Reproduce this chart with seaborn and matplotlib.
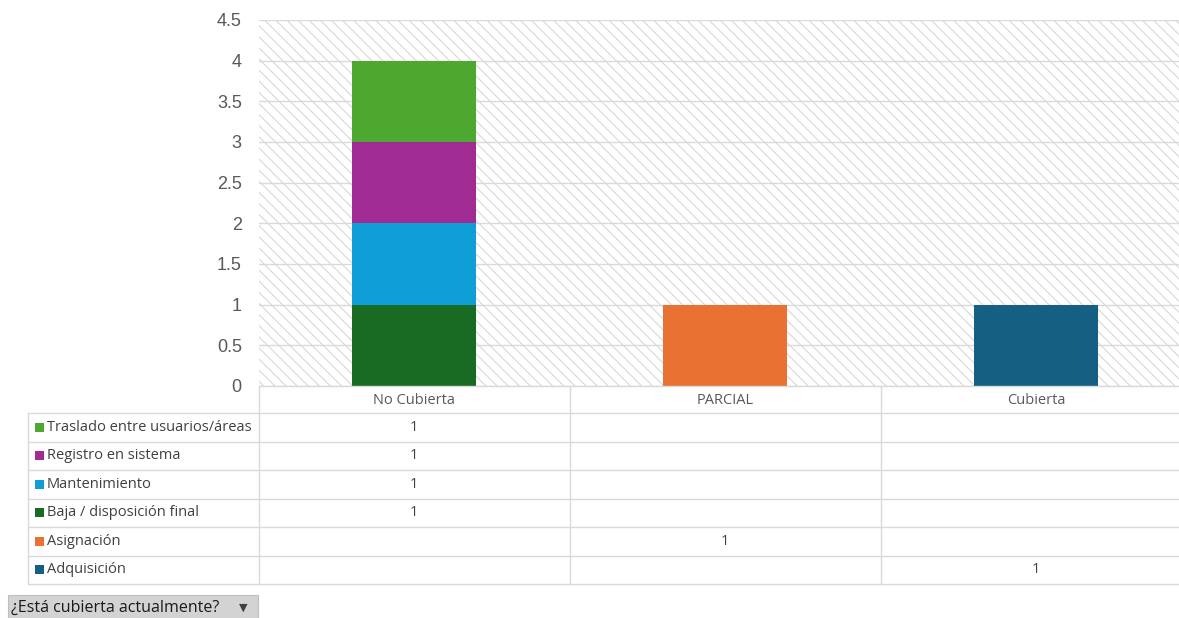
import matplotlib
matplotlib.use("Agg")
import matplotlib.pyplot as plt
from matplotlib.patches import Rectangle
import seaborn as sns
import pandas as pd
import numpy as np

# ---- data ----
categories = ["No Cubierta", "PARCIAL", "Cubierta"]
series_names = ["Traslado entre usuarios/áreas", "Registro en sistema", "Mantenimiento",
                "Baja / disposición final", "Asignación", "Adquisición"]
traslado = [1, 0, 0]
registro = [1, 0, 0]
mantenimiento = [1, 0, 0]
baja = [1, 0, 0]
asignacion = [0, 1, 0]
adquisicion = [0, 0, 1]
series_values = [traslado, registro, mantenimiento, baja, asignacion, adquisicion]
series_colors = ["#4EA72E", "#A02B93", "#0F9ED5", "#196B24", "#E97132", "#156082"]
yticks = [0, 0.5, 1, 1.5, 2, 2.5, 3, 3.5, 4, 4.5]
button_label = "¿Está cubierta actualmente?"

sns.set_theme(style="white")
plt.rcParams["font.family"] = ["Open Sans", "DejaVu Sans"]
plt.rcParams["hatch.linewidth"] = 0.7
plt.rcParams["hatch.color"] = "#d3d3d3"

W, H = 1179, 618
fig = plt.figure(figsize=(W / 100, H / 100), dpi=100)
fig.patch.set_facecolor("white")

ax_l, ax_r, ax_t, ax_b = 258.5, 1191.5, 20, 386
ax = fig.add_axes([ax_l / W, 1 - ax_b / H, (ax_r - ax_l) / W, (ax_b - ax_t) / H])

# hatched background
ax.add_patch(Rectangle((0, 0), 1, 1, transform=ax.transAxes, facecolor="white",
                       edgecolor="#d3d3d3", hatch="\\\\\\", lw=0, zorder=0))

# stacked bars: stack order bottom->top is reversed table order
stack_order = list(range(len(series_names)))[::-1]
cum = np.zeros(len(categories))
cums = {}
for i in stack_order:
    cum = cum + np.array(series_values[i], dtype=float)
    cums[i] = cum.copy()
for i in stack_order[::-1]:
    df = pd.DataFrame({"cat": categories, "val": cums[i]})
    sns.barplot(data=df, x="cat", y="val", order=categories, color=series_colors[i],
                width=0.4, saturation=1, ax=ax, zorder=3, linewidth=0)

ax.set_xlim(-0.5, 2.5)
ax.set_ylim(0, 4.5)
ax.set_yticks(yticks)
ax.set_yticklabels([f"{t:g}" for t in yticks], fontsize=13, color="#595959",
                   family="Liberation Sans")
ax.tick_params(axis="y", length=0, pad=12)
ax.set_xticks([])
ax.set_xlabel("")
ax.set_ylabel("")
for t in yticks:
    ax.axhline(t, color="#d9d9d9", lw=1, zorder=1)
for s in ax.spines.values():
    s.set_visible(False)

# ---- data table (pixel overlay) ----
ov = fig.add_axes([0, 0, 1, 1], zorder=5)
ov.set_xlim(0, W)
ov.set_ylim(H, 0)
ov.axis("off")
ov.patch.set_alpha(0)

lc = "#d9d9d9"
tleft = 28
row_h = 28.5
hdr_top = ax_b
hdr_bot = 413
n = len(series_names)
rows_bot = hdr_bot + row_h * n
cat_w = (ax_r - ax_l) / len(categories)
col_edges = [ax_l + cat_w * k for k in range(len(categories) + 1)]

ov.plot([ax_l, W], [hdr_top, hdr_top], color=lc, lw=1)
for r in range(n + 1):
    y = hdr_bot + row_h * r
    ov.plot([tleft, W], [y, y], color=lc, lw=1)
ov.plot([tleft, tleft], [hdr_bot, rows_bot], color=lc, lw=1)
for xe in col_edges[:-1]:
    ov.plot([xe, xe], [hdr_top, rows_bot], color=lc, lw=1)

txt_c = "#404040"
fs = 10.5
for k, c in enumerate(categories):
    cx = (col_edges[k] + col_edges[k + 1]) / 2
    ov.text(cx, (hdr_top + hdr_bot) / 2 + 1, c, ha="center", va="center",
            fontsize=fs, color="#595959")
for r, name in enumerate(series_names):
    cy = hdr_bot + row_h * (r + 0.5)
    ov.add_patch(Rectangle((35, cy - 4.5), 9, 9, facecolor=series_colors[r], lw=0))
    ov.text(47, cy, name, ha="left", va="center", fontsize=fs, color=txt_c)
    for k, v in enumerate(series_values[r]):
        if v:
            cx = (col_edges[k] + col_edges[k + 1]) / 2
            ov.text(cx, cy, f"{v:g}", ha="center", va="center", fontsize=fs, color=txt_c)

# filter button
ov.add_patch(Rectangle((8, 595), 250, 26, facecolor="#d3d3d3", edgecolor="#c0c0c0", lw=0.8))
ov.text(11, 608, button_label, ha="left", va="center", fontsize=11.5, color="#1a1a1a")
ov.text(243, 608, "▼", ha="center", va="center", fontsize=8, color="#404040",
        family=["DejaVu Sans"])

fig.savefig("out.png", dpi=100)
